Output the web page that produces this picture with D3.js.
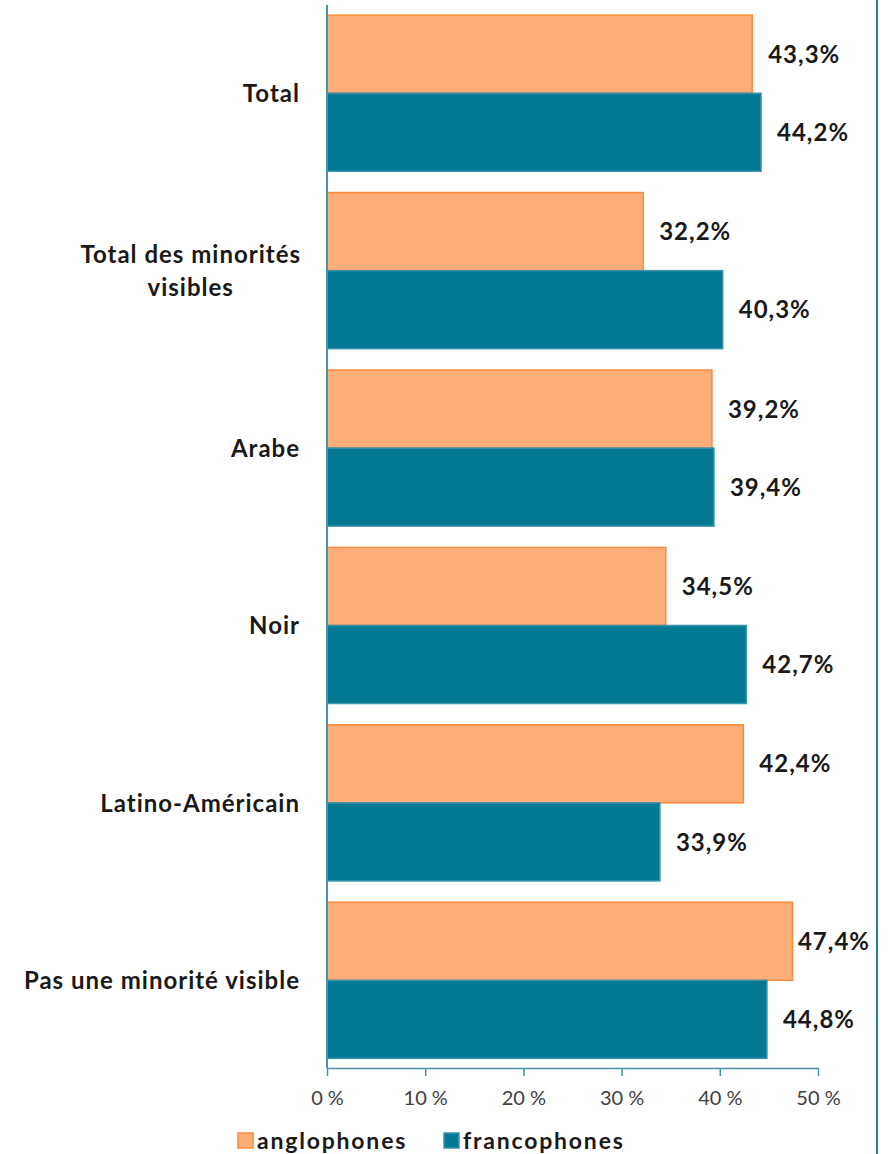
<!DOCTYPE html>
<html><head><meta charset="utf-8">
<script src="https://cdn.jsdelivr.net/npm/d3@7"></script>
<style>body{margin:0;background:#fff}svg{display:block}</style>
</head><body>
<script>
const categories = ["Total", "Total des minorités|visibles", "Arabe", "Noir", "Latino-Américain", "Pas une minorité visible"];
const series = ["anglophones", "francophones"];
const anglophones = [43.3, 32.2, 39.2, 34.5, 42.4, 47.4];
const francophones = [44.2, 40.3, 39.4, 42.7, 33.9, 44.8];
const tickValues = [0, 10, 20, 30, 40, 50];

const W = 890, H = 1154;
const font = "Lato, 'Open Sans', sans-serif";
const svg = d3.select("body").append("svg").attr("width", W).attr("height", H);

const x = d3.scaleLinear().domain([0, 50]).range([327, 818]);
const y = d3.scaleBand().domain(categories).range([4.5, 1069]).paddingInner(0.12).paddingOuter(0.06);
const ySub = d3.scaleBand().domain(series).range([0, y.bandwidth()]);

const fills = {anglophones: "#fdae78", francophones: "#037993"};
const strokes = {anglophones: "#f98b3c", francophones: "#3a93ab"};

const data = categories.map((c, i) => ({cat: c, vals: [
  {s: "anglophones", v: anglophones[i]}, {s: "francophones", v: francophones[i]}]}));

const g = svg.append("g");
const groups = g.selectAll("g.cat").data(data).join("g")
  .attr("transform", d => `translate(0,${y(d.cat)})`);

groups.selectAll("rect").data(d => d.vals).join("rect")
  .attr("x", x(0)).attr("y", d => ySub(d.s))
  .attr("width", d => x(d.v) - x(0)).attr("height", ySub.bandwidth())
  .attr("fill", d => fills[d.s]).attr("stroke", d => strokes[d.s]).attr("stroke-width", 1.5);

groups.selectAll("text.val").data(d => d.vals).join("text").attr("class", "val")
  .attr("y", d => ySub(d.s) + ySub.bandwidth() / 2)
  .attr("dy", "0.36em").attr("font-family", font).attr("font-weight", "bold")
  .attr("font-size", 24).attr("letter-spacing", 1).attr("fill", "#1a1a1a")
  .text(d => d.v.toFixed(1).replace(".", ",") + "%")
  .attr("x", function(d) {
    const w = this.getComputedTextLength();
    return Math.min(x(d.v) + 16, 870 - w);
  });

// category labels
const labelStyle = t => t.attr("font-family", font).attr("font-weight", "bold")
  .attr("font-size", 24).attr("letter-spacing", 1).attr("fill", "#1a1a1a");
categories.forEach(c => {
  const lines = c.split("|");
  const cy = y(c) + y.bandwidth() / 2;
  if (lines.length === 1) {
    svg.append("text").attr("x", 300).attr("y", cy).attr("dy", "0.36em")
      .attr("text-anchor", "end").call(labelStyle).text(lines[0]);
  } else {
    const t1 = svg.append("text").attr("x", 301).attr("y", cy - 16.5).attr("dy", "0.36em")
      .attr("text-anchor", "end").call(labelStyle).text(lines[0]);
    const w1 = t1.node().getComputedTextLength();
    svg.append("text").attr("x", 301 - w1 / 2).attr("y", cy + 16.5).attr("dy", "0.36em")
      .attr("text-anchor", "middle").call(labelStyle).text(lines[1]);
  }
});

// axes
const axisColor = "#4b94a8";
const xAxis = svg.append("g").attr("transform", "translate(0,1068)")
  .call(d3.axisBottom(x).tickValues(tickValues).tickSize(8).tickSizeOuter(0)
    .tickFormat(d => d + " %"));
xAxis.select(".domain").attr("stroke", axisColor).attr("stroke-width", 1.5);
xAxis.selectAll(".tick line").attr("stroke", axisColor).attr("stroke-width", 1.5);
xAxis.selectAll(".tick text").attr("font-family", font).attr("font-size", 20)
  .attr("fill", "#404040").attr("y", 30).attr("dy", "0.36em");

svg.append("line").attr("x1", x(0)).attr("x2", x(0)).attr("y1", 5).attr("y2", 1068)
  .attr("stroke", axisColor).attr("stroke-width", 2);

// right border
svg.append("line").attr("x1", 877).attr("x2", 877).attr("y1", 0).attr("y2", H)
  .attr("stroke", "#1a84a0").attr("stroke-width", 2);

// legend
const legend = [{s: "anglophones", x: 238}, {s: "francophones", x: 444}];
legend.forEach(l => {
  svg.append("rect").attr("x", l.x).attr("y", 1133).attr("width", 15).attr("height", 15)
    .attr("fill", fills[l.s]).attr("stroke", strokes[l.s]).attr("stroke-width", 1.5);
  svg.append("text").attr("x", l.x + 19).attr("y", 1141).attr("dy", "0.36em")
    .attr("font-family", font).attr("font-weight", "bold").attr("font-size", 23)
    .attr("letter-spacing", 1.8).attr("fill", "#1a1a1a").text(l.s);
});
</script>
</body></html>
